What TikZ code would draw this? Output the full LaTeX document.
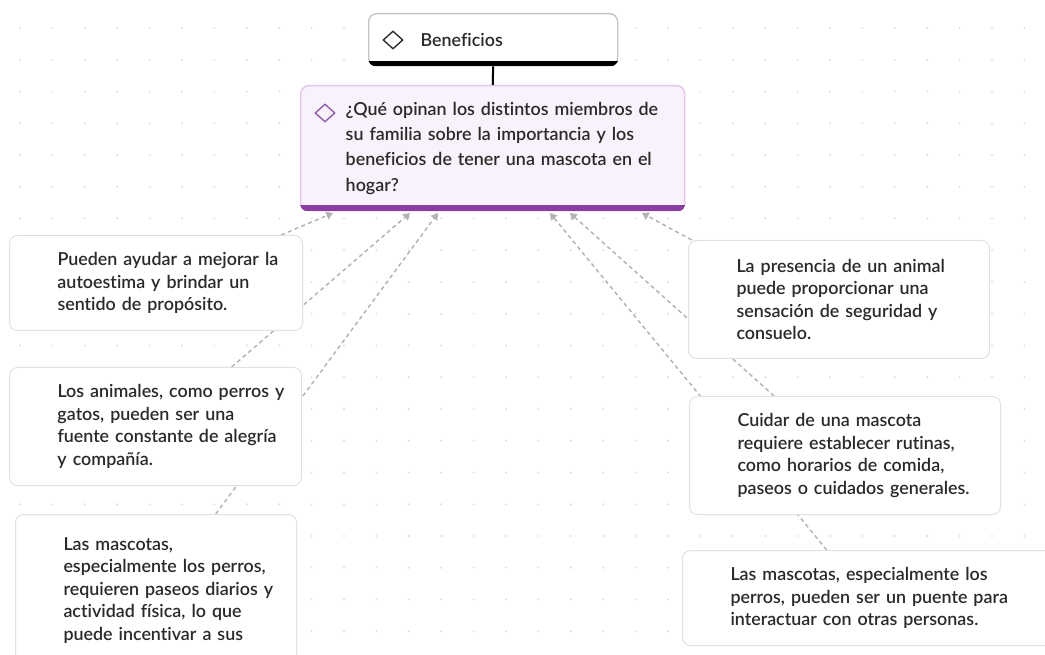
\documentclass[tikz,border=0pt]{standalone}
\usepackage{fontspec}
\setmainfont{Lato}[UprightFont={* Semibold},Ligatures={NoCommon}]
\usetikzlibrary{shapes.geometric,arrows.meta,calc}
\pgfdeclarelayer{bg}
\pgfsetlayers{bg,main}
\definecolor{ink}{HTML}{2B2A29}
\definecolor{cardline}{HTML}{E1E1E1}
\definecolor{topline}{HTML}{C4C4C4}
\definecolor{qline}{HTML}{E6C5EC}
\definecolor{qfill}{HTML}{F9F1FB}
\definecolor{qbar}{HTML}{8A3FA0}
\definecolor{qicon}{HTML}{8E5AA8}
\definecolor{linkgray}{HTML}{B3B3B3}
\definecolor{dotgray}{HTML}{DCDCDC}
\begin{document}
\begin{tikzpicture}[x=0.75pt,y=0.75pt,yscale=-1,xscale=1,
	card/.style={draw=cardline, line width=0.75pt, fill=white, rounded corners=6pt, anchor=north west, inner sep=0pt, text=ink, font=\fontsize{13.4pt}{16.9pt}\selectfont, execute at begin node={\raggedright\leftskip=36pt}},
	link/.style={draw=linkgray, line width=1.1pt, dash pattern=on 3pt off 2.5pt, -{Triangle[length=5pt,width=6pt]}},
	icon/.style={diamond, draw=#1, line width=1pt, inner sep=0pt, minimum width=15pt, minimum height=13.5pt}]
	\useasboundingbox (0,0) rectangle (1045,655);
	\node[card, draw=topline, line width=1pt, text width=186.75pt, minimum height=39pt, execute at begin node={\raggedright\leftskip=39pt}] (b) at (368,13) {Beneficios};
	\node[card, draw=qline, fill=qfill, line width=1.1pt, text width=288pt, minimum height=93.75pt, font=\fontsize{13.4pt}{19.1pt}\selectfont, execute at begin node={\raggedright\leftskip=33.75pt}] (q) at (300,85) {¿Qué opinan los distintos miembros de\\su familia sobre la importancia y los\\beneficios de tener una mascota en el\\hogar?};
	\node[card, text width=219.75pt, minimum height=71.25pt] (l1) at (9,235) {Pueden ayudar a mejorar la\\autoestima y brindar un\\sentido de propósito.};
	\node[card, text width=219pt, minimum height=88.5pt] (l2) at (9,367) {Los animales, como perros y\\gatos, pueden ser una\\fuente constante de alegría\\y compañía.};
	\node[card, text width=210.75pt, minimum height=114pt] (l3) at (15,514) {Las mascotas,\\especialmente los perros,\\requieren paseos diarios y\\actividad física, lo que\\puede incentivar a sus};
	\node[card, text width=225.75pt, minimum height=88.5pt] (r1) at (688,240) {La presencia de un animal\\puede proporcionar una\\sensación de seguridad y\\consuelo.};
	\node[card, text width=233.25pt, minimum height=88.5pt] (r2) at (689,396) {Cuidar de una mascota\\requiere establecer rutinas,\\como horarios de comida,\\paseos o cuidados generales.};
	\node[card, text width=283.5pt, minimum height=71.25pt] (r3) at (682,550) {Las mascotas, especialmente los\\perros, pueden ser un puente para\\interactuar con otras personas.};
	\node[icon=ink] (bd) at (393,40) {};
	\node[icon=qicon] (qd) at (325,113) {};
	\begin{scope}
		\clip[rounded corners=6pt] (b.south west) rectangle (b.north east);
		\fill[black] (b.south west) rectangle ($(b.south east)+(0,-5)$);
	\end{scope}
	\begin{scope}
		\clip[rounded corners=6pt] (q.south west) rectangle (q.north east);
		\fill[qbar] (q.south west) rectangle ($(q.south east)+(0,-6)$);
	\end{scope}
	\draw[line width=1.5pt] (b.south) -- (q.north);
	\coordinate (h1) at (333,213);
	\coordinate (h2) at (410,213);
	\coordinate (h3) at (438,213);
	\coordinate (h4) at (550,213);
	\coordinate (h5) at (570,213);
	\coordinate (h6) at (642,213);
	\begin{pgfonlayer}{bg}
		\foreach \i in {0,...,31}
			\foreach \j in {0,...,19}
				\fill[dotgray] (20+32.4*\i,28+31.75*\j) circle (0.8pt);
		\draw[link] (l1.21) -- (h1);
		\draw[link] (l2.38) -- (h2);
		\draw[link] (l3.52) -- (h3);
		\draw[link] (r3.133) -- (h4);
		\draw[link] (r2.140) -- (h5);
		\draw[link] (r1.158) -- (h6);
	\end{pgfonlayer}
\end{tikzpicture}
\end{document}
